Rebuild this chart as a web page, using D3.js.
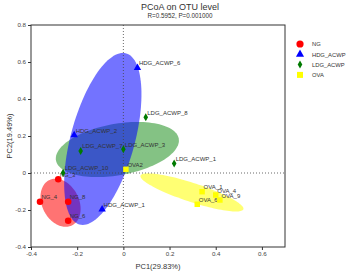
<!DOCTYPE html>
<html>
<head>
<meta charset="utf-8">
<script src="https://cdn.jsdelivr.net/npm/d3@7"></script>
<style>
  html, body { margin: 0; padding: 0; background: #fff; }
  svg { display: block; font-family: 'Liberation Sans', Arial, sans-serif; }
</style>
</head>
<body>
<svg id="chart" width="348" height="271"></svg>
<script>
const groups = ['NG', 'HDG_ACWP', 'LDG_ACWP', 'OVA']
const groupColors = ['#ff0000', '#0000ff', '#007a00', '#ffff00']
const fillColors = ['#ff0000', '#0000ff', '#1f8f1f', '#ffff00']

// samples: name, group index, PC1, PC2
const sampleNames = [
  'NG_3', 'NG_4', 'NG_8', 'NG_6',
  'HDG_ACWP_6', 'HDG_ACWP_2', 'HDG_ACWP_1',
  'LDG_ACWP_8', 'LDG_ACWP_7', 'LDG_ACWP_3', 'LDG_ACWP_10', 'LDG_ACWP_1',
  'OVA2', 'OVA_1', 'OVA_4', 'OVA_9', 'OVA_6'
]
const sampleGroup = [0, 0, 0, 0, 1, 1, 1, 2, 2, 2, 2, 2, 3, 3, 3, 3, 3]
const pc1 = [-0.282, -0.361, -0.239, -0.239, 0.061, -0.213, -0.092,
  0.097, -0.185, 0.0, -0.261, 0.22, 0.011, 0.341, 0.4, 0.418, 0.32]
const pc2 = [-0.034, -0.155, -0.155, -0.258, 0.569, 0.205, -0.196,
  0.301, 0.119, 0.128, 0.002, 0.052, 0.02, -0.101, -0.119, -0.146, -0.169]

// group ellipses (data units): centre, offset of top point, half width at centre
const ellCx = [-0.272, -0.089, -0.026, 0.297]
const ellCy = [-0.161, 0.184, 0.127, -0.105]
const ellTopDx = [-0.022, 0.087, 0.087, -0.19]
const ellTopDy = [0.13, 0.465, 0.149, 0.103]
const ellHalfW = [0.084, 0.143, 0.252, 0.117]
const ellOrder = [0, 2, 1, 3]

const xTicks = [-0.4, -0.2, 0, 0.2, 0.4, 0.6]
const yTicks = [-0.4, -0.2, 0, 0.2, 0.4, 0.6, 0.8]

const svg = d3.select('#chart')
const plotL = 31, plotR = 285, plotT = 25, plotB = 247

const x = d3.scaleLinear().domain([-0.4, 0.7]).range([plotL, plotR])
const y = d3.scaleLinear().domain([-0.4, 0.8]).range([plotB, plotT])

const fmt = (d) => String(+d.toFixed(1))

// ellipses
const line = d3.line().x((d) => x(d[0])).y((d) => y(d[1]))
ellOrder.forEach((g) => {
  const pts = d3.range(0, 361, 3).map((deg) => {
    const t = (deg * Math.PI) / 180
    return [
      ellCx[g] + ellTopDx[g] * Math.cos(t) + ellHalfW[g] * Math.sin(t),
      ellCy[g] + ellTopDy[g] * Math.cos(t)
    ]
  })
  svg.append('path')
    .attr('d', line(pts) + 'Z')
    .attr('fill', fillColors[g])
    .attr('fill-opacity', 0.55)
    .attr('stroke', 'none')
})

// zero lines
svg.append('line')
  .attr('x1', x(0)).attr('x2', x(0))
  .attr('y1', plotT).attr('y2', plotB)
  .attr('stroke', '#444').attr('stroke-width', 0.8)
  .attr('stroke-dasharray', '1,2')
svg.append('line')
  .attr('x1', plotL).attr('x2', plotR)
  .attr('y1', y(0)).attr('y2', y(0))
  .attr('stroke', '#444').attr('stroke-width', 0.8)
  .attr('stroke-dasharray', '1,2')

// frame
svg.append('rect')
  .attr('x', plotL).attr('y', plotT)
  .attr('width', plotR - plotL).attr('height', plotB - plotT)
  .attr('fill', 'none').attr('stroke', '#333').attr('stroke-width', 1)

// axes
const xAxis = svg.append('g')
  .attr('transform', `translate(0,${plotB})`)
  .call(d3.axisBottom(x).tickValues(xTicks).tickFormat(fmt).tickSize(3).tickPadding(2))
const yAxis = svg.append('g')
  .attr('transform', `translate(${plotL},0)`)
  .call(d3.axisLeft(y).tickValues(yTicks).tickFormat(fmt).tickSize(3).tickPadding(2))
;[xAxis, yAxis].forEach((a) => {
  a.select('.domain').remove()
  a.selectAll('line').attr('stroke', '#333')
  a.selectAll('text').attr('fill', '#444').attr('font-size', 6.2)
})

// point shapes
const diamond = 'M0,-4L2.3,0L0,4L-2.3,0Z'
const shapeFor = (g, s) => {
  if (g === 0) return d3.symbol(d3.symbolCircle, 34 * s)()
  if (g === 1) return d3.symbol(d3.symbolTriangle, 24 * s)()
  if (g === 2) return diamond
  return d3.symbol(d3.symbolSquare, 30 * s)()
}

const samples = sampleNames.map((n, i) => ({ name: n, g: sampleGroup[i], x: pc1[i], y: pc2[i] }))

svg.selectAll('text.lab')
  .data(samples)
  .join('text')
  .attr('class', 'lab')
  .attr('x', (d) => x(d.x) + 1.5)
  .attr('y', (d) => y(d.y) - 2.5)
  .attr('font-size', 6)
  .attr('fill', '#333')
  .text((d) => d.name)

svg.selectAll('path.pt')
  .data(samples)
  .join('path')
  .attr('class', 'pt')
  .attr('transform', (d) => `translate(${x(d.x)},${y(d.y)})`)
  .attr('d', (d) => shapeFor(d.g, 1))
  .attr('fill', (d) => groupColors[d.g])

// legend
const legend = svg.append('g')
legend.selectAll('path')
  .data(groups)
  .join('path')
  .attr('transform', (_, i) => `translate(300,${44 + i * 10.3})`)
  .attr('d', (_, i) => shapeFor(i, 1.2))
  .attr('fill', (_, i) => groupColors[i])
legend.selectAll('text')
  .data(groups)
  .join('text')
  .attr('x', 312)
  .attr('y', (_, i) => 44 + i * 10.3 + 2.2)
  .attr('font-size', 5.8)
  .attr('fill', '#333')
  .text((d) => d)

// titles
svg.append('text')
  .attr('x', 180).attr('y', 9.5)
  .attr('text-anchor', 'middle')
  .attr('font-size', 9)
  .attr('fill', '#333')
  .text('PCoA on OTU level')
svg.append('text')
  .attr('x', 180).attr('y', 17.8)
  .attr('text-anchor', 'middle')
  .attr('font-size', 6.3)
  .attr('fill', '#333')
  .text('R=0.5952, P=0.001000')

svg.append('text')
  .attr('x', (plotL + plotR) / 2).attr('y', 269)
  .attr('text-anchor', 'middle')
  .attr('font-size', 7.5)
  .attr('fill', '#333')
  .text('PC1(29.83%)')
svg.append('text')
  .attr('transform', `translate(12,${(plotT + plotB) / 2}) rotate(-90)`)
  .attr('text-anchor', 'middle')
  .attr('font-size', 7.5)
  .attr('fill', '#333')
  .text('PC2(19.49%)')
</script>
</body>
</html>
